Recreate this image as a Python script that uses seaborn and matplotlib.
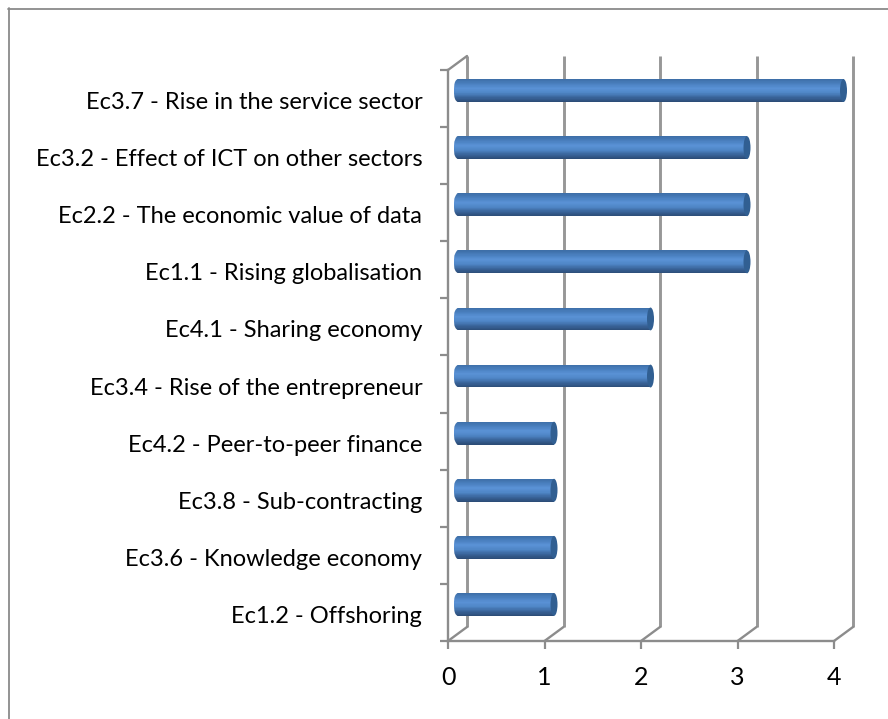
import numpy as np
import pandas as pd
import matplotlib
matplotlib.use('Agg')
import matplotlib.pyplot as plt
from matplotlib.colors import LinearSegmentedColormap
from matplotlib.lines import Line2D
from matplotlib.patches import Ellipse
from matplotlib.transforms import ScaledTranslation
import seaborn as sns

labels = ['Ec3.7 - Rise in the service sector', 'Ec3.2 - Effect of ICT on other sectors',
          'Ec2.2 - The economic value of data', 'Ec1.1 - Rising globalisation',
          'Ec4.1 - Sharing economy', 'Ec3.4 - Rise of the entrepreneur',
          'Ec4.2 - Peer-to-peer finance', 'Ec3.8 - Sub-contracting',
          'Ec3.6 - Knowledge economy', 'Ec1.2 - Offshoring']
values = [4, 3, 3, 3, 2, 2, 1, 1, 1, 1]
x_ticks = [0, 1, 2, 3, 4]

sns.set_theme(style='white')
plt.rcParams['font.family'] = ['Lato', 'DejaVu Sans']

W, H = 888, 719
fig = plt.figure(figsize=(W / 100, H / 100), dpi=100)
ax = fig.add_axes([448 / W, 1 - 641 / H, 386 / W, 571 / H])
ax.patch.set_alpha(0)

df = pd.DataFrame({'label': labels, 'value': values})
sns.barplot(data=df, y='label', x='value', ax=ax, width=0.4, color='#4f81bd', saturation=1)

ax.set_xlim(0, 4)
ax.set_ylim(9.5, -0.5)
ax.set_xlabel('')
ax.set_ylabel('')
ax.set_xticks(x_ticks)

# fake 3d depth, pixels per data unit come from the axes size
grey = '#8c8c8c'
px_x, px_y = 386 / 4, 571 / 10
dx, dy = 19 / px_x, 14 / px_y
for v in x_ticks:
    ax.plot([v + dx, v + dx], [9.5 - dy, -0.5 - dy], color='#979797', lw=2.1, clip_on=False, zorder=1,
            solid_capstyle='butt')
    ax.plot([v, v + dx], [9.5, 9.5 - dy], color=grey, lw=1.7, clip_on=False, zorder=1)
ax.plot([0, dx], [-0.5, -0.5 - dy], color=grey, lw=1.7, clip_on=False, zorder=1)

# bars sit halfway into the depth, shaded like cylinders
cyl = LinearSegmentedColormap.from_list('cyl', ['#3e6fa8', '#4a80c0', '#5a92d6', '#4f86c6', '#3a659b', '#2c4d78'])
shift = ScaledTranslation(9.5 / 100, 8 / 100, fig.dpi_scale_trans)
tr = ax.transData + shift
shade = np.linspace(0, 1, 40).reshape(-1, 1)
cap_w = 7 / px_x
for bar in list(ax.patches):
    x0, y0, w, h = bar.get_x(), bar.get_y(), bar.get_width(), bar.get_height()
    bar.set_visible(False)
    ys = np.linspace(y0, y0 + h, 41)
    ax.pcolormesh([x0, x0 + w], ys, shade, cmap=cyl, transform=tr, clip_on=False, zorder=3, shading='flat')
    # left end keeps the same shading, only rounded off
    left = ax.pcolormesh([x0 - cap_w, x0], ys, shade, cmap=cyl, transform=tr, zorder=3, shading='flat')
    left.set_clip_path(Ellipse((x0, y0 + h / 2), cap_w, h, transform=tr))
    ax.add_patch(Ellipse((x0 + w, y0 + h / 2), cap_w, h, transform=tr, facecolor='#315f92',
                         edgecolor='none', clip_on=False, zorder=4))

for s in ['top', 'right']:
    ax.spines[s].set_visible(False)
for s in ['left', 'bottom']:
    ax.spines[s].set_color(grey)
    ax.spines[s].set_linewidth(1.7)

ax.set_yticks(np.arange(-0.5, 10), minor=True)
ax.tick_params(axis='y', which='major', length=0, pad=18.5, labelsize=17, labelcolor='black')
ax.tick_params(axis='y', which='minor', left=True, length=5.8, width=1.6, color=grey)
ax.tick_params(axis='x', which='major', bottom=True, length=5.8, width=1.6, color=grey, pad=12.5,
               labelsize=18, labelcolor='black')

# labels sit a touch lower in the original
nudge = ScaledTranslation(0, -2 / 100, fig.dpi_scale_trans)
for lab in ax.get_yticklabels():
    lab.set_transform(lab.get_transform() + nudge)

# chart frame, runs off the image at the right and bottom
for xs, ys in [([8.5, 8.5], [8, 719]), ([8, 888], [8.5, 8.5])]:
    fig.add_artist(Line2D(np.array(xs) / W, 1 - np.array(ys) / H, color='#8a8a8a', lw=1.3))

fig.savefig('out.png', dpi=100)
